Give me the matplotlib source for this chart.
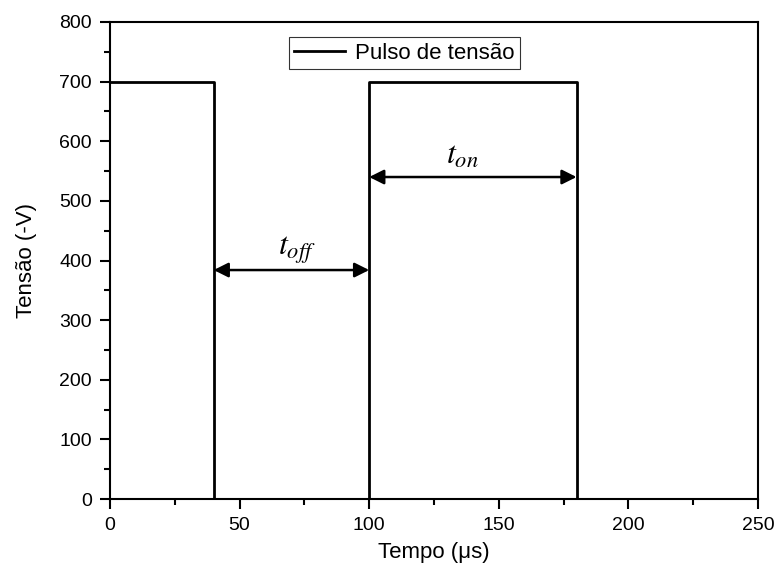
import matplotlib.pyplot as plt
from matplotlib.ticker import MultipleLocator

plt.rcParams['font.family'] = 'Liberation Sans'
plt.rcParams['mathtext.fontset'] = 'stix'

# pulse waveform (time in us, voltage in -V)
tempo = [0, 40, 40, 100, 100, 180, 180, 220]
tensao = [700, 700, 0, 0, 700, 700, 0, 0]

# annotation spans (start, end, height)
t_off = (40, 100, 384)
t_on = (100, 180, 540)

fig = plt.figure(figsize=(7.75, 5.72), dpi=100)
ax = fig.add_axes([110 / 775, 1 - 499 / 572, 648 / 775, 477 / 572])

ax.plot(tempo, tensao, 'k-', lw=2, label='Pulso de tensão')

for x0, x1, y in (t_off, t_on):
    ax.annotate('', xy=(x0, y), xytext=(x1, y),
                arrowprops=dict(arrowstyle='<|-|>', color='k', lw=1.8,
                                mutation_scale=22, shrinkA=0, shrinkB=0))
ax.text(72, 390, r'$t_{off}$', fontsize=23, ha='center', va='bottom')
ax.text(136, 550, r'$t_{on}$', fontsize=23, ha='center', va='bottom')

ax.set_xlim(0, 250)
ax.set_ylim(0, 800)
ax.xaxis.set_major_locator(MultipleLocator(50))
ax.xaxis.set_minor_locator(MultipleLocator(25))
ax.yaxis.set_major_locator(MultipleLocator(100))
ax.yaxis.set_minor_locator(MultipleLocator(50))
ax.tick_params(which='both', direction='out', width=1.5, labelsize=14, pad=6)
ax.tick_params(which='major', length=7)
ax.tick_params(which='minor', length=4)
for s in ax.spines.values():
    s.set_linewidth(1.5)

ax.set_xlabel('Tempo (μs)', fontsize=16, labelpad=6)
ax.set_ylabel('Tensão (-V)', fontsize=16, labelpad=16)

leg = ax.legend(loc='upper center', bbox_to_anchor=(0.4545, 0.9686),
                borderaxespad=0, fontsize=16, fancybox=False, edgecolor='k',
                handlelength=2.3, borderpad=0.25, handletextpad=0.45)
leg.get_frame().set_linewidth(0.8)

fig.savefig('out.png', dpi=100)
